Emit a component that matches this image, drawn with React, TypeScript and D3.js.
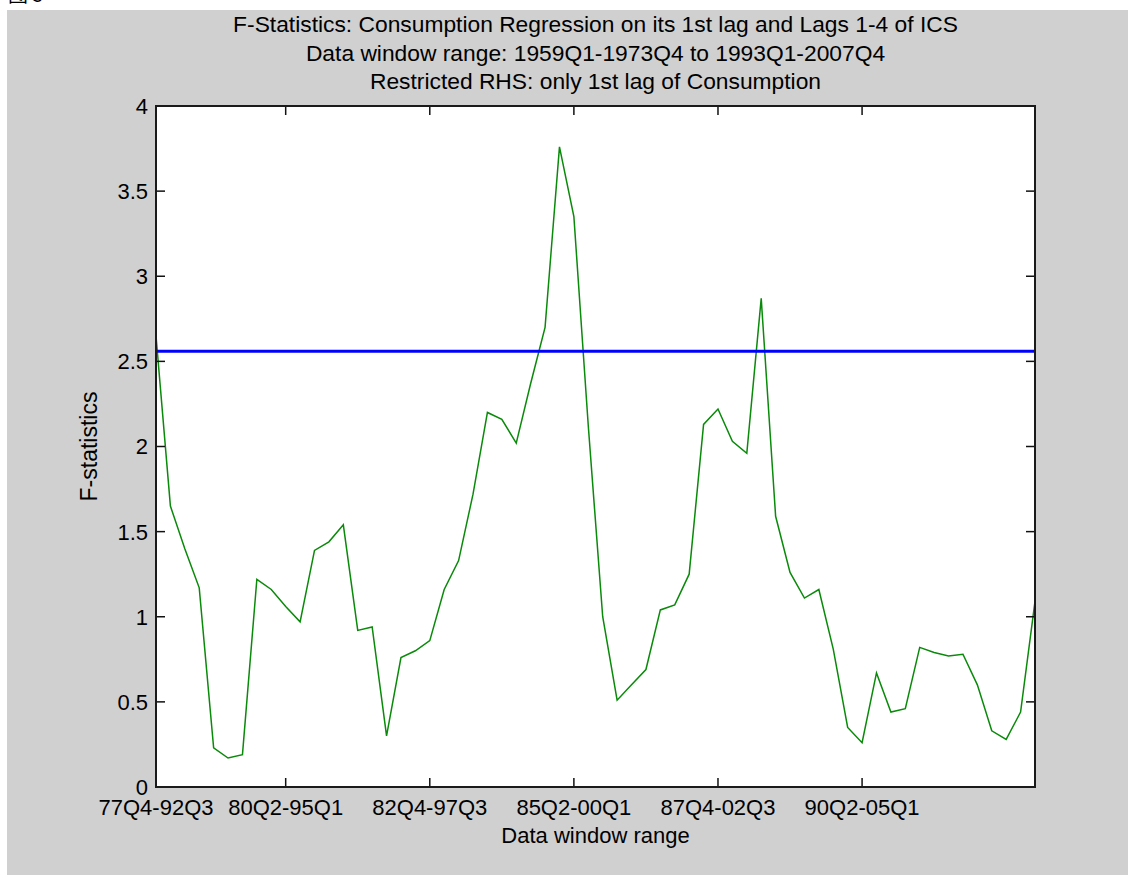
import React, { useEffect, useRef } from 'react';
import * as d3 from 'd3';

// F-statistics for each rolling data window (window 1 = 77Q4-92Q3)
const fStats = [
  2.65, 1.65, 1.40, 1.17, 0.23, 0.17, 0.19, 1.22, 1.16, 1.06,
  0.97, 1.39, 1.44, 1.54, 0.92, 0.94, 0.30, 0.76, 0.80, 0.86,
  1.16, 1.33, 1.72, 2.20, 2.16, 2.02, 2.37, 2.70, 3.76, 3.35,
  2.12, 1.00, 0.51, 0.60, 0.69, 1.04, 1.07, 1.25, 2.13, 2.22,
  2.03, 1.96, 2.87, 1.59, 1.26, 1.11, 1.16, 0.81, 0.35, 0.26,
  0.67, 0.44, 0.46, 0.82, 0.79, 0.77, 0.78, 0.60, 0.33, 0.28,
  0.44, 1.09
];

const criticalValue = 2.56;

const xTickIndex = [1, 10, 20, 30, 40, 50];
const xTickLabels = ['77Q4-92Q3', '80Q2-95Q1', '82Q4-97Q3', '85Q2-00Q1', '87Q4-02Q3', '90Q2-05Q1'];
const yTicks = [0, 0.5, 1, 1.5, 2, 2.5, 3, 3.5, 4];

const titleLines = [
  'F-Statistics: Consumption Regression on its 1st lag and Lags 1-4 of ICS',
  'Data window range: 1959Q1-1973Q4 to 1993Q1-2007Q4',
  'Restricted RHS: only 1st lag of Consumption'
];

const FONT = '"Liberation Sans", Arial, Helvetica, sans-serif';

const FStatChart = () => {
  const svgRef = useRef<SVGSVGElement | null>(null);

  useEffect(() => {
    const width = 1128;
    const height = 875;
    const plot = { left: 156, top: 106, right: 1035, bottom: 787 };
    const tickLen = 9;

    const root = d3.select(svgRef.current);
    root.selectAll('*').remove();
    root.attr('width', width).attr('height', height);

    // caption peeking in at the very top, then the grey figure
    root.append('rect').attr('width', width).attr('height', height).attr('fill', '#ffffff');
    root.append('text')
      .attr('x', 8).attr('y', 2)
      .attr('font-family', '"Noto Sans CJK SC", sans-serif')
      .attr('font-size', 20)
      .text('图 5');
    root.append('rect')
      .attr('x', 7).attr('y', 10)
      .attr('width', width - 7).attr('height', height - 10)
      .attr('fill', '#d0d0d0');

    const x = d3.scaleLinear().domain([1, fStats.length]).range([plot.left, plot.right]);
    const y = d3.scaleLinear().domain([0, 4]).range([plot.bottom, plot.top]);

    root.append('rect')
      .attr('x', plot.left).attr('y', plot.top)
      .attr('width', plot.right - plot.left).attr('height', plot.bottom - plot.top)
      .attr('fill', '#ffffff');

    // data line
    const line = d3.line<number>()
      .x((d, i) => x(i + 1))
      .y(d => y(d));

    root.append('path')
      .datum(fStats)
      .attr('d', line)
      .attr('fill', 'none')
      .attr('stroke', '#0a8a0a')
      .attr('stroke-width', 1.5);

    // critical value
    root.append('line')
      .attr('x1', plot.left).attr('x2', plot.right)
      .attr('y1', y(criticalValue)).attr('y2', y(criticalValue))
      .attr('stroke', '#0000ff')
      .attr('stroke-width', 3);

    // ticks on all four sides, pointing in
    const ticks = root.append('g').attr('stroke', '#111').attr('stroke-width', 1.5);
    xTickIndex.forEach(t => {
      ticks.append('line').attr('x1', x(t)).attr('x2', x(t)).attr('y1', plot.bottom).attr('y2', plot.bottom - tickLen);
      ticks.append('line').attr('x1', x(t)).attr('x2', x(t)).attr('y1', plot.top).attr('y2', plot.top + tickLen);
    });
    yTicks.forEach(t => {
      ticks.append('line').attr('x1', plot.left).attr('x2', plot.left + tickLen).attr('y1', y(t)).attr('y2', y(t));
      ticks.append('line').attr('x1', plot.right).attr('x2', plot.right - tickLen).attr('y1', y(t)).attr('y2', y(t));
    });

    root.append('rect')
      .attr('x', plot.left).attr('y', plot.top)
      .attr('width', plot.right - plot.left).attr('height', plot.bottom - plot.top)
      .attr('fill', 'none')
      .attr('stroke', '#1a1a1a')
      .attr('stroke-width', 2);

    const labels = root.append('g')
      .attr('font-family', FONT)
      .attr('font-size', 22)
      .attr('fill', '#000');

    xTickIndex.forEach((t, i) => {
      labels.append('text')
        .attr('x', x(t)).attr('y', 815)
        .attr('text-anchor', 'middle')
        .text(xTickLabels[i]);
    });

    yTicks.forEach(t => {
      labels.append('text')
        .attr('x', plot.left - 8).attr('y', y(t))
        .attr('dy', '0.36em')
        .attr('text-anchor', 'end')
        .text(String(t));
    });

    titleLines.forEach((s, i) => {
      labels.append('text')
        .attr('x', (plot.left + plot.right) / 2)
        .attr('y', 32 + i * 28.5)
        .attr('font-size', 22.8)
        .attr('text-anchor', 'middle')
        .text(s);
    });

    labels.append('text')
      .attr('x', (plot.left + plot.right) / 2).attr('y', 843)
      .attr('text-anchor', 'middle')
      .text('Data window range');

    labels.append('text')
      .attr('transform', `translate(97,${(plot.top + plot.bottom) / 2}) rotate(-90)`)
      .attr('font-size', 23)
      .attr('text-anchor', 'middle')
      .text('F-statistics');
  }, []);

  return <svg ref={svgRef} style={{ position: 'absolute', left: 0, top: 0, display: 'block' }} />;
};

export default function App() {
  return <FStatChart />;
}
